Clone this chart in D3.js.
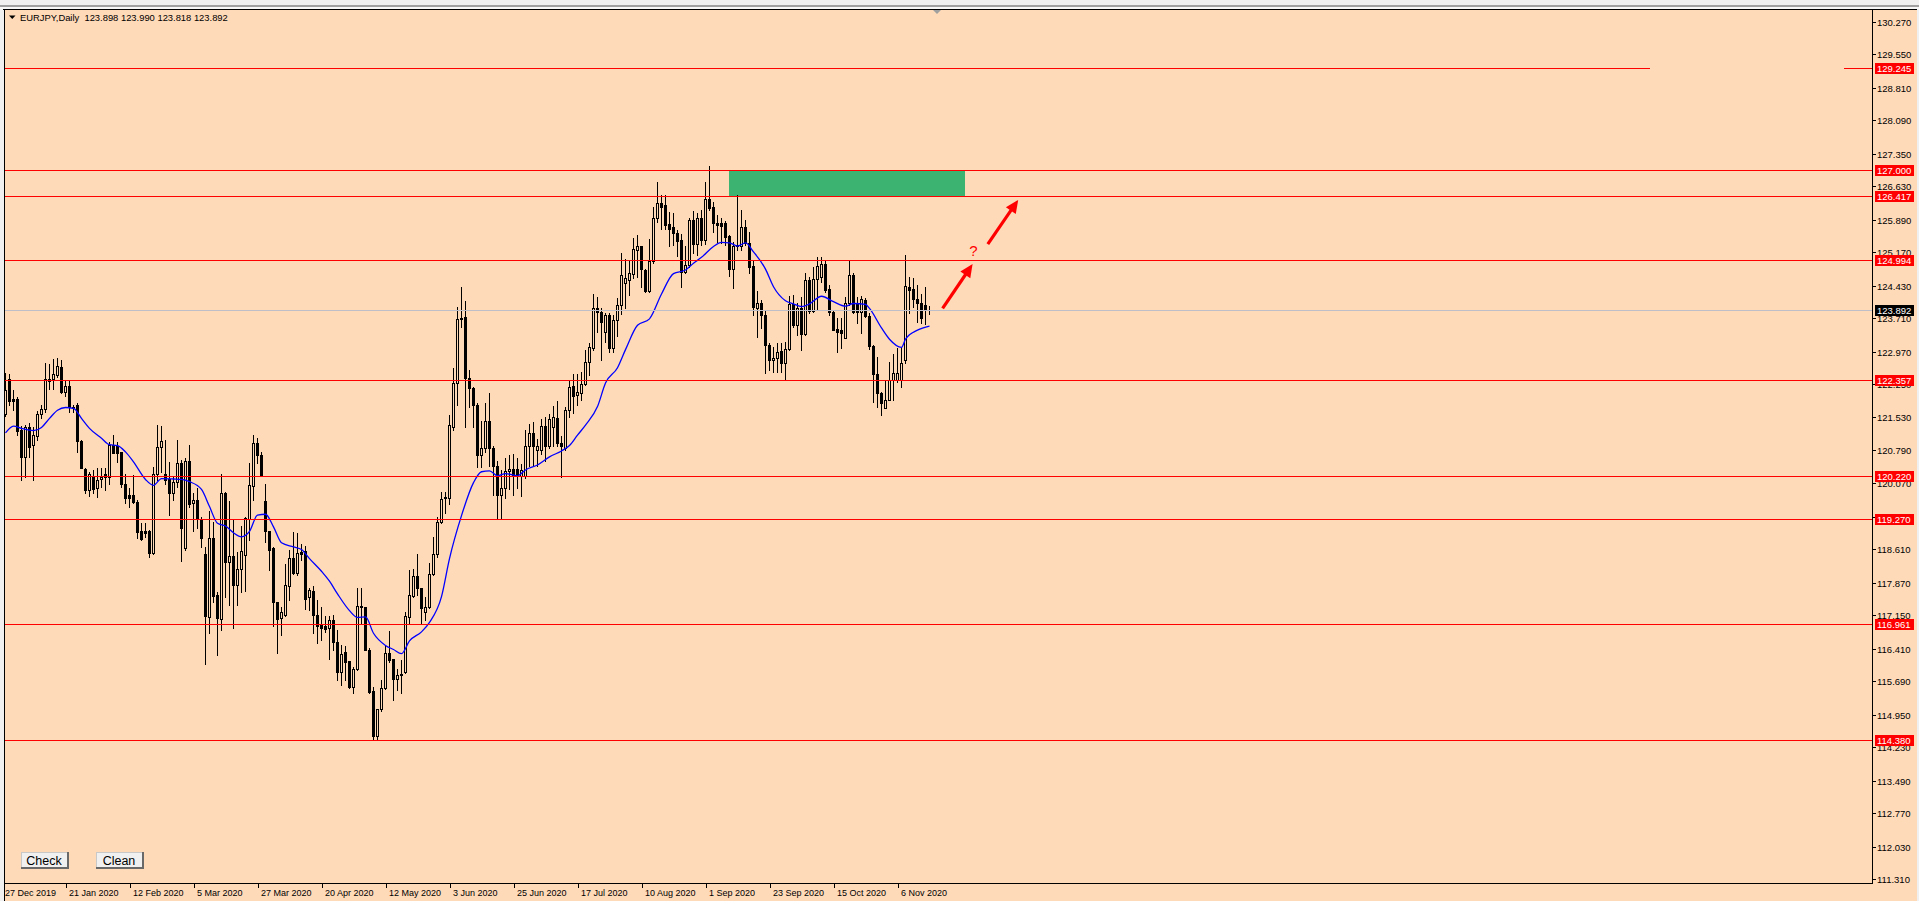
<!DOCTYPE html>
<html><head><meta charset="utf-8"><title>EURJPY,Daily</title>
<script src="https://cdn.jsdelivr.net/npm/d3@7/dist/d3.min.js"></script>
<style>
html,body{margin:0;padding:0;overflow:hidden;background:#F0F0F0;}
svg{display:block;}
</style></head><body>
<svg id="chart" width="1919" height="901"></svg>
<script>
// ---------------- DATA ----------------
const symbolTitle = "EURJPY,Daily";
const headerValues = ["123.898", "123.990", "123.818", "123.892"];

const opens = [121.60,122.36,121.92,121.92,121.24,120.64,121.30,120.91,121.12,121.60,
121.70,122.33,122.36,122.46,122.64,122.09,122.22,121.76,121.80,121.00,
120.37,119.92,120.23,119.95,120.15,120.28,120.20,120.91,120.89,120.76,
120.06,119.80,119.80,119.66,119.01,119.01,119.02,118.52,120.28,120.86,
120.28,120.15,119.86,120.09,120.51,118.64,120.56,119.62,119.69,119.27,
118.50,117.10,118.86,117.59,117.06,119.84,118.33,118.46,117.82,118.18,
118.49,119.27,120.01,120.96,120.69,119.67,119.01,118.63,117.45,117.08,
117.15,117.80,118.41,118.09,118.55,118.57,117.54,117.69,117.15,116.93,
116.91,116.86,117.04,116.56,115.90,116.34,116.14,115.57,115.95,117.35,
117.32,116.39,115.47,114.48,115.07,115.53,116.32,116.18,115.74,115.85,
115.90,117.10,117.58,118.02,117.76,117.21,117.32,118.05,118.50,119.20,
119.77,119.75,121.32,122.28,123.69,123.73,122.40,122.18,121.80,120.68,
120.84,121.45,120.84,120.45,119.80,119.97,120.33,120.37,120.37,120.22,
120.22,120.88,121.18,120.80,120.80,121.33,120.88,121.30,121.50,120.95,
120.85,121.69,122.22,122.02,122.05,122.25,122.74,123.05,123.93,123.86,
123.42,123.79,123.05,123.68,124.01,124.50,124.56,124.69,125.22,125.30,
124.78,124.32,124.98,125.92,126.27,126.22,125.80,125.72,125.59,125.44,
124.74,124.89,125.88,125.35,125.92,125.44,126.36,126.18,125.83,125.81,
125.83,125.53,124.80,125.30,125.30,125.72,125.38,124.87,123.95,124.04,
123.78,123.12,122.78,122.83,122.99,122.73,123.03,124.03,123.56,123.93,
123.36,124.56,123.88,124.59,124.62,124.91,124.35,123.86,123.47,123.45,
123.27,124.04,124.67,124.04,123.86,124.12,123.77,123.10,122.48,122.07,
121.72,121.90,122.35,122.35,122.35,122.80,124.41,124.35,124.13,124.06,
124.01,123.898];

const highs = [122.50,122.47,122.13,121.98,121.33,121.35,121.39,121.32,121.67,121.80,
122.72,122.70,122.81,122.83,122.79,122.35,122.35,121.80,121.83,121.02,
120.40,120.32,120.36,120.40,120.40,120.40,120.98,121.13,120.98,120.76,
120.28,119.95,120.25,119.70,119.19,119.19,119.03,120.43,121.35,121.33,
121.02,120.54,120.21,121.02,120.58,120.62,120.91,119.84,119.97,119.33,
118.66,119.45,119.22,117.67,120.28,119.88,119.67,119.25,118.55,119.11,
119.31,120.51,121.13,121.06,120.76,120.06,119.01,118.66,117.45,117.34,
118.29,118.59,118.99,118.96,118.72,118.68,117.76,117.80,117.48,117.34,
117.12,117.14,117.15,116.82,116.49,116.47,116.14,116.01,117.74,117.74,
117.34,116.42,115.57,115.08,115.72,116.49,116.81,116.19,115.97,116.16,
117.23,118.15,118.16,118.50,117.76,117.56,118.30,118.88,119.33,119.88,
119.88,121.57,122.61,123.97,124.41,124.10,122.57,122.20,121.83,121.45,
121.85,122.05,120.90,120.55,120.36,120.62,120.68,120.72,120.62,120.50,
121.25,121.37,121.43,121.05,121.48,121.52,121.60,121.78,121.88,121.10,
121.75,122.35,122.48,122.47,122.53,123.01,123.16,124.26,124.19,123.93,
123.82,123.82,123.78,124.15,125.16,125.02,124.98,125.48,125.55,125.31,
124.80,125.46,126.18,126.72,126.44,126.44,126.07,126.03,125.66,125.58,
125.31,125.92,126.08,126.03,126.10,126.73,127.07,126.29,126.00,125.92,
125.87,125.55,125.41,126.44,126.10,125.88,125.63,124.99,124.32,124.12,
123.90,123.17,123.07,123.17,123.16,123.18,124.21,124.22,124.04,124.19,
124.71,124.63,124.84,125.07,125.07,125.00,124.45,123.90,123.71,123.71,
124.19,124.98,124.71,124.19,124.21,124.17,123.84,123.12,122.86,122.09,
122.33,122.75,122.92,123.05,123.08,125.11,124.63,124.60,124.45,124.26,
124.41,123.990];

const lows = [121.55,121.80,121.69,121.13,120.14,120.21,120.65,120.14,121.02,121.50,
121.65,122.16,122.14,122.42,122.05,121.99,121.65,121.65,120.76,120.40,
119.86,119.78,119.84,119.77,119.99,119.92,120.06,120.73,120.54,119.99,
119.62,119.55,119.62,118.85,118.82,118.88,118.43,118.50,120.14,120.32,
120.06,119.36,119.69,119.99,118.35,118.59,119.55,119.01,119.08,118.66,
116.08,116.76,117.45,116.27,116.82,117.56,117.37,116.87,117.37,117.67,
117.68,118.81,119.69,120.51,120.23,118.77,118.15,116.92,116.32,116.71,
117.12,117.48,118.07,118.04,118.37,117.28,117.26,116.75,116.53,116.60,
116.78,116.19,116.39,115.72,115.61,115.72,115.53,115.42,115.94,116.97,
116.38,115.42,114.39,114.39,115.02,115.51,116.12,115.27,115.49,115.42,
115.86,116.97,117.56,117.60,116.97,117.04,117.30,118.04,118.44,119.18,
119.40,119.60,121.25,121.80,123.53,121.32,121.76,121.32,120.43,120.43,
120.75,120.45,119.80,119.27,119.30,119.75,119.93,119.80,119.95,119.78,
120.18,120.45,120.45,120.45,120.72,120.55,120.85,120.90,120.90,120.21,
120.80,121.54,121.61,121.80,121.91,122.23,122.46,123.01,123.42,122.79,
123.19,122.97,122.97,123.31,123.80,123.95,124.23,124.60,124.63,124.41,
124.30,124.30,124.93,125.85,125.68,125.68,125.30,125.33,125.08,124.41,
124.72,124.85,125.15,125.11,125.33,125.35,126.10,125.63,125.41,125.37,
125.33,124.65,124.39,125.22,125.22,125.33,124.72,123.79,123.30,123.50,
122.50,122.58,122.53,122.53,122.53,122.35,123.01,123.53,123.34,123.01,
123.34,123.82,123.86,123.90,124.52,124.30,123.79,123.45,122.97,123.05,
123.27,124.01,123.82,123.60,123.38,123.75,123.03,121.87,121.76,121.57,
121.72,121.90,121.91,122.31,122.19,122.72,123.82,123.97,123.64,123.60,
123.59,123.818];

const closes = [122.13,121.89,121.89,121.23,120.64,121.30,120.87,121.13,121.60,121.70,
122.36,122.36,122.47,122.66,122.09,122.22,121.76,121.72,120.99,120.41,
119.92,120.28,119.93,120.14,120.20,120.20,120.91,120.74,120.74,120.06,
119.73,119.73,119.66,118.99,118.83,118.97,118.52,120.28,120.86,120.99,
120.14,119.86,120.10,120.51,119.08,120.56,119.60,119.69,119.27,118.86,
117.12,118.86,117.57,117.08,119.86,118.33,118.46,117.82,118.18,118.57,
119.29,120.03,120.96,120.69,120.25,119.01,118.59,117.43,117.06,117.21,
117.82,118.41,118.09,118.52,118.50,117.51,117.71,117.15,116.91,116.87,
116.84,117.04,116.56,115.90,116.29,116.12,115.57,115.95,117.35,117.32,
116.39,115.46,114.48,115.07,115.53,116.32,116.16,115.73,115.83,115.83,
117.12,117.60,118.02,117.74,117.30,117.34,118.06,118.50,119.22,119.72,
119.75,121.35,122.28,123.69,123.72,122.40,122.18,121.80,120.68,120.84,
121.45,120.84,120.45,119.80,119.97,120.33,120.37,120.25,120.22,120.35,
120.88,121.18,120.88,120.90,121.33,120.88,121.48,121.52,120.95,120.88,
121.69,122.20,122.00,122.08,122.25,122.74,123.07,123.93,123.86,123.64,
123.79,123.05,123.68,124.01,124.68,124.60,124.71,125.24,125.30,124.80,
124.32,124.98,125.94,126.27,126.18,125.78,125.69,125.59,125.43,124.74,
124.89,125.89,125.35,125.92,125.45,126.36,126.16,125.83,125.77,125.75,
125.50,124.80,125.30,125.33,125.72,125.37,124.85,123.97,124.06,123.78,
123.12,122.80,122.83,122.97,122.73,123.03,124.03,123.56,123.93,123.36,
124.56,123.87,124.59,124.87,124.91,124.34,123.86,123.45,123.40,123.38,
124.04,124.68,123.86,123.86,124.13,123.77,123.09,122.48,122.07,121.85,
121.90,122.35,122.51,122.51,122.72,124.42,124.34,124.13,124.06,123.71,
123.91,123.892];

// moving average (bar index, value)
const maBars = [0,2,4,7,9,11,13,15,17,19,21,24,26,28,30,32,35,37,39,42,44,46,49,51,53,55,57,59,61,63,65,67,69,72,74,76,79,81,83,86,88,90,92,95,97,99,101,104,106,109,111,114,117,119,121,123,125,128,130,133,136,139,141,143,145,148,150,153,155,158,161,164,167,170,172,174,177,179,181,183,185,187,190,192,195,197,199,201,204,207,210,212,215,216,219,221,224,225,228,231];
const maValues = [121.18,121.33,121.28,121.23,121.30,121.50,121.68,121.74,121.72,121.50,121.28,121.06,120.92,120.90,120.76,120.54,120.15,120.02,120.17,120.16,120.15,120.10,119.93,119.55,119.18,119.12,118.97,118.88,119.00,119.36,119.38,119.10,118.75,118.66,118.60,118.40,118.12,117.90,117.62,117.25,117.10,117.11,116.75,116.48,116.39,116.30,116.58,116.78,116.99,117.56,118.40,119.35,120.08,120.32,120.34,120.23,120.28,120.23,120.36,120.47,120.65,120.78,120.90,121.13,121.35,121.76,122.28,122.62,123.02,123.56,123.70,124.25,124.70,124.78,124.93,125.06,125.30,125.39,125.38,125.31,125.38,125.18,124.80,124.41,124.10,124.03,123.97,124.03,124.20,124.08,123.98,124.04,124.02,123.93,123.50,123.25,123.07,123.25,123.45,123.54];

const dateLabelBars = [0,16,32,48,64,80,96,112,128,144,160,176,192,208,224];
const dateLabels = ["27 Dec 2019","21 Jan 2020","12 Feb 2020","5 Mar 2020","27 Mar 2020","20 Apr 2020","12 May 2020","3 Jun 2020","25 Jun 2020","17 Jul 2020","10 Aug 2020","1 Sep 2020","23 Sep 2020","15 Oct 2020","6 Nov 2020"];

const priceTicks = [130.270,129.550,128.810,128.090,127.350,126.630,125.890,125.170,124.430,123.710,122.970,122.250,121.530,120.790,120.070,119.330,118.610,117.870,117.150,116.410,115.690,114.950,114.230,113.490,112.770,112.030,111.310];
const levels = [129.245,127.000,126.417,124.994,122.357,120.220,119.270,116.961,114.380];
const lastPrice = 123.892;
const brokenLevel = 129.245;
const brokenGapBars = [411.3, 459.8];

const zoneBars = [181, 240];
const zonePrices = [127.000, 126.417];

const arrowFromBars = [234.4, 245.7];
const arrowFromPrices = [123.93, 125.35];
const arrowToBars = [241.9, 253.3];
const arrowToPrices = [124.91, 126.33];
const questionBar = 242.1;
const questionPrice = 125.08;

const buttonLabels = ["Check", "Clean"];

// ---------------- DRAWING ----------------
const W = 1919, H = 901;
const PEACH = "#FFDAB9";
const FONT = "'Liberation Sans', Arial, sans-serif";
const plotLeft = 4, plotTop = 9, axisX = 1872, axisY = 883;

const x = d3.scaleLinear().domain([0, 231]).range([5, 929]);
const y = d3.scaleLinear().domain([111.31, 130.27]).range([879.3, 21.67]);
const px = v => Math.round(x(v));
const py = v => Math.round(y(v));

const svg = d3.select("#chart");
svg.attr("shape-rendering", "crispEdges");

// window chrome
svg.append("rect").attr("x", 0).attr("y", 0).attr("width", W).attr("height", H).attr("fill", "#F0F0F0");
svg.append("rect").attr("x", 0).attr("y", 5).attr("width", W).attr("height", 2).attr("fill", "#A0A0A0");
svg.append("rect").attr("x", 0).attr("y", 7).attr("width", W).attr("height", 2).attr("fill", "#F8F8F8");
// chart background
svg.append("rect").attr("x", plotLeft).attr("y", plotTop).attr("width", 1917 - plotLeft).attr("height", H - plotTop).attr("fill", PEACH);

const defs = svg.append("defs");
defs.append("clipPath").attr("id", "plotClip").append("rect")
  .attr("x", plotLeft + 1).attr("y", plotTop + 1).attr("width", axisX - plotLeft - 1).attr("height", axisY - plotTop - 1);

const plot = svg.append("g").attr("clip-path", "url(#plotClip)");

// green zone
plot.append("rect")
  .attr("x", px(zoneBars[0])).attr("y", py(zonePrices[0]))
  .attr("width", px(zoneBars[1]) - px(zoneBars[0]))
  .attr("height", py(zonePrices[1]) - py(zonePrices[0]))
  .attr("fill", "#3CB371");

// candles
const candleG = plot.append("g");
opens.forEach((o, i) => {
  const h = highs[i], l = lows[i], c = closes[i];
  const cx = px(i);
  const yh = py(h), yl = py(l);
  candleG.append("rect").attr("x", cx).attr("y", yh).attr("width", 1).attr("height", Math.max(1, yl - yh + 1)).attr("fill", "#000");
  const yo = py(o), yc = py(c);
  const t = Math.min(yo, yc), b = Math.max(yo, yc);
  candleG.append("rect").attr("x", cx - 1).attr("y", t).attr("width", 3).attr("height", b - t + 1).attr("fill", "#000");
  if (c > o && b - t >= 2) {
    candleG.append("rect").attr("x", cx).attr("y", t + 1).attr("width", 1).attr("height", b - t - 1).attr("fill", PEACH);
  }
});

// moving average
const maPts = maBars.map((b, i) => [b, maValues[i]]);
plot.append("path")
  .attr("d", d3.line().x(d => x(d[0]) + 0.5).y(d => y(d[1])).curve(d3.curveMonotoneX)(maPts))
  .attr("fill", "none").attr("stroke", "#0000FF").attr("stroke-width", 1.3)
  .attr("shape-rendering", "auto");

// current price line
plot.append("line")
  .attr("x1", plotLeft).attr("x2", axisX)
  .attr("y1", py(lastPrice) + 0.5).attr("y2", py(lastPrice) + 0.5)
  .attr("stroke", "#BEBEC8").attr("stroke-width", 1);

// red levels
levels.forEach(v => {
  const yy = py(v) + 0.5;
  const segs = (v === brokenLevel)
    ? [[plotLeft, x(brokenGapBars[0])], [x(brokenGapBars[1]), axisX]]
    : [[plotLeft, axisX]];
  segs.forEach(s => {
    plot.append("line").attr("x1", s[0]).attr("x2", s[1]).attr("y1", yy).attr("y2", yy)
      .attr("stroke", "#FF0000").attr("stroke-width", 1);
  });
});

// arrows
arrowFromBars.forEach((fb, i) => {
  const x1 = x(fb), y1 = y(arrowFromPrices[i]);
  const x2 = x(arrowToBars[i]), y2 = y(arrowToPrices[i]);
  const dx = x2 - x1, dy = y2 - y1, len = Math.hypot(dx, dy);
  const ux = dx / len, uy = dy / len, nx = -uy, ny = ux;
  const headL = 13, headW = 6;
  const bx = x2 - ux * headL, by = y2 - uy * headL;
  plot.append("line").attr("x1", x1).attr("y1", y1).attr("x2", bx + ux * 2).attr("y2", by + uy * 2)
    .attr("stroke", "#FF0000").attr("stroke-width", 3.2).attr("stroke-linecap", "butt")
    .attr("shape-rendering", "auto");
  plot.append("path")
    .attr("d", `M${x2},${y2}L${bx + nx * headW},${by + ny * headW}L${bx - nx * headW},${by - ny * headW}Z`)
    .attr("fill", "#FF0000").attr("shape-rendering", "auto");
});

plot.append("text").attr("x", x(questionBar)).attr("y", y(questionPrice))
  .attr("text-anchor", "middle").attr("font-family", FONT).attr("font-size", "15px")
  .attr("fill", "#FF0000").text("?");

// frame lines
svg.append("rect").attr("x", 3).attr("y", plotTop).attr("width", 1914).attr("height", 1).attr("fill", "#000");
svg.append("rect").attr("x", plotLeft).attr("y", plotTop).attr("width", 1).attr("height", H - plotTop).attr("fill", "#000");
svg.append("rect").attr("x", axisX).attr("y", plotTop).attr("width", 1).attr("height", axisY - plotTop + 1).attr("fill", "#000");
svg.append("rect").attr("x", plotLeft).attr("y", axisY).attr("width", axisX - plotLeft + 1).attr("height", 1).attr("fill", "#000");

// chart shift marker
svg.append("path").attr("d", "M933,10L941,10L937,14Z").attr("fill", "#A0A0A0").attr("shape-rendering", "auto");

// price axis ticks and labels
const axisG = svg.append("g").attr("font-family", FONT).attr("font-size", "9.5px");
priceTicks.forEach(v => {
  const yy = py(v);
  axisG.append("rect").attr("x", axisX).attr("y", yy).attr("width", 4).attr("height", 1).attr("fill", "#000");
  axisG.append("text").attr("x", axisX + 5).attr("y", yy + 4).attr("fill", "#000").text(d3.format(".3f")(v));
});
levels.forEach(v => {
  const yy = py(v);
  axisG.append("rect").attr("x", axisX + 3).attr("y", yy - 5).attr("width", 39).attr("height", 11).attr("fill", "#FF0000");
  axisG.append("text").attr("x", axisX + 5).attr("y", yy + 4).attr("fill", "#FFF").text(d3.format(".3f")(v));
});
{
  const yy = py(lastPrice);
  axisG.append("rect").attr("x", axisX + 3).attr("y", yy - 5).attr("width", 39).attr("height", 11).attr("fill", "#000");
  axisG.append("text").attr("x", axisX + 5).attr("y", yy + 4).attr("fill", "#FFF").text(d3.format(".3f")(lastPrice));
}

// time axis
const timeG = svg.append("g").attr("font-family", FONT).attr("font-size", "9px");
dateLabelBars.forEach((b, i) => {
  const xx = px(b);
  timeG.append("rect").attr("x", Math.max(plotLeft, xx - 3)).attr("y", axisY).attr("width", 1).attr("height", 5).attr("fill", "#000");
  timeG.append("text").attr("x", xx).attr("y", 896).attr("fill", "#000").text(dateLabels[i]);
});

// header
svg.append("path").attr("d", "M9,15.5L15.5,15.5L12.25,19Z").attr("fill", "#000").attr("shape-rendering", "auto");
svg.append("text").attr("x", 20).attr("y", 20.5).attr("font-family", FONT).attr("font-size", "9.4px")
  .attr("fill", "#000").attr("xml:space", "preserve")
  .text(symbolTitle + "  " + headerValues.join(" "));

// buttons
const btnX = [21, 96];
buttonLabels.forEach((lab, i) => {
  const bx = btnX[i], by = 852, bw = 48, bh = 17;
  const g = svg.append("g");
  g.append("rect").attr("x", bx).attr("y", by).attr("width", bw).attr("height", bh).attr("fill", "#F0F0F0");
  g.append("rect").attr("x", bx).attr("y", by).attr("width", bw).attr("height", 1).attr("fill", "#C8C8C8");
  g.append("rect").attr("x", bx).attr("y", by).attr("width", 1).attr("height", bh).attr("fill", "#C8C8C8");
  g.append("rect").attr("x", bx).attr("y", by + bh - 2).attr("width", bw).attr("height", 2).attr("fill", "#696969");
  g.append("rect").attr("x", bx + bw - 2).attr("y", by).attr("width", 2).attr("height", bh).attr("fill", "#696969");
  g.append("text").attr("x", bx + bw / 2 - 1).attr("y", by + 13).attr("text-anchor", "middle")
    .attr("font-family", FONT).attr("font-size", "12.5px").attr("fill", "#000").text(lab);
});
</script>
</body></html>
